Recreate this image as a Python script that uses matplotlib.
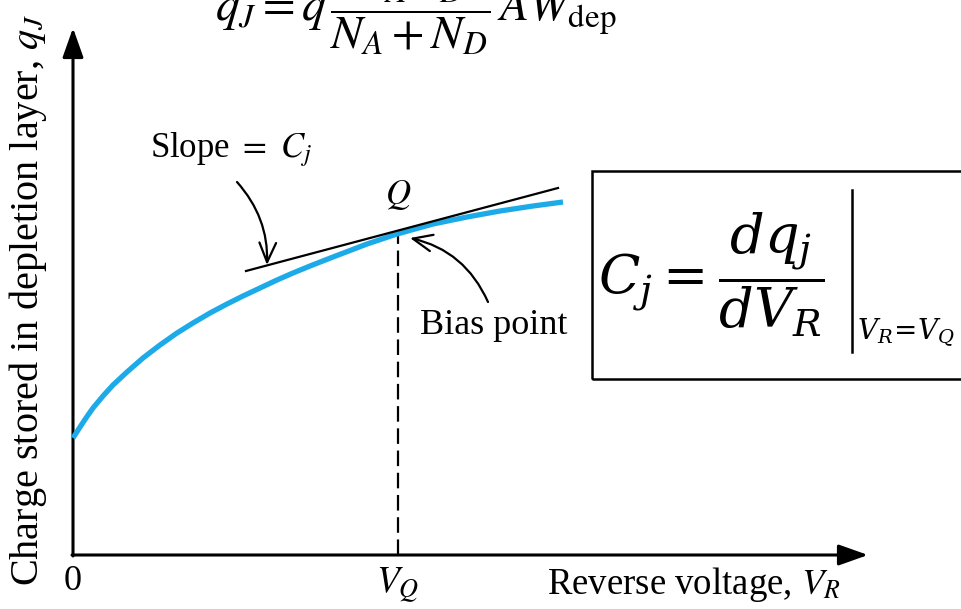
import matplotlib
matplotlib.use("Agg")
import matplotlib.pyplot as plt
from matplotlib.patches import Rectangle

plt.rcParams["font.family"] = ["Liberation Serif", "DejaVu Serif"]
plt.rcParams["mathtext.fontset"] = "stix"

# Charge vs reverse voltage (arbitrary units)
v_r = [0.00, 0.07, 0.14, 0.20, 0.30, 0.40, 0.54, 0.70, 0.87, 1.04, 1.20, 1.37,
       1.54, 1.70, 1.87, 2.04, 2.20, 2.37, 2.60, 2.94, 3.24, 3.60, 3.94, 4.27,
       4.60, 4.90]
q_j = [1.17, 1.28, 1.385, 1.47, 1.59, 1.70, 1.83, 1.97, 2.10, 2.22, 2.32, 2.42,
       2.51, 2.59, 2.67, 2.75, 2.82, 2.89, 2.98, 3.11, 3.21, 3.31, 3.38, 3.44,
       3.49, 3.53]

# Bias point and tangent line through it
v_q, q_q = 3.25, 3.22
tangent_v = [1.73, 4.85]
tangent_q = [2.84, 3.67]

x_tip, y_tip = 7.95, 5.27

fig = plt.figure(figsize=(9.61, 6.09), dpi=100)
ax = fig.add_axes([0, 0, 1, 1])
ax.set_xlim(-0.73, 8.88)
ax.set_ylim(-0.54, 5.55)
ax.axis("off")

# axes with arrow heads
head = dict(arrowstyle="-|>,head_length=0.9,head_width=0.32", lw=2.2,
            color="black", mutation_scale=20, shrinkA=0, shrinkB=0)
ax.annotate("", xy=(0, y_tip), xytext=(0, -0.01), arrowprops=head)
ax.annotate("", xy=(x_tip, 0), xytext=(-0.01, 0), arrowprops=head)

# q-V curve
ax.plot(v_r, q_j, color="#1cabe8", lw=3.8, solid_capstyle="butt",
        solid_joinstyle="round", zorder=3)

# tangent at the bias point
ax.plot(tangent_v, tangent_q, color="black", lw=1.6, zorder=4)

# dashed drop line to V_Q
ax.plot([v_q, v_q], [0, q_q], color="black", lw=1.6, ls=(0, (7, 3)), zorder=2)

# labels
ax.text(0, -0.27, "0", ha="center", va="center", fontsize=26)
ax.text(v_q, -0.30, r"$V_Q$", ha="center", va="center", fontsize=27)
ax.text(4.74, -0.30, r"Reverse voltage, $V_R$", ha="left", va="center",
        fontsize=26.5)
ax.text(-0.45, 2.55, r"Charge stored in depletion layer, $q_J$", ha="center",
        va="center", rotation=90, fontsize=29)

ax.text(0.77, 4.05, r"Slope $=$ $C_j$", ha="left", va="center", fontsize=25)
ax.text(v_q, 3.60, r"$Q$", ha="center", va="center", fontsize=25)
ax.text(3.47, 2.30, "Bias point", ha="left", va="center", fontsize=26)

ax.annotate("", xy=(1.94, 2.90), xytext=(1.64, 3.73),
            arrowprops=dict(arrowstyle="->,head_length=0.7,head_width=0.3",
                            lw=1.6, color="black", mutation_scale=20,
                            connectionstyle="arc3,rad=-0.2",
                            shrinkA=0, shrinkB=0))
ax.annotate("", xy=(3.37, 3.17), xytext=(4.15, 2.53),
            arrowprops=dict(arrowstyle="->,head_length=0.7,head_width=0.3",
                            lw=1.6, color="black", mutation_scale=20,
                            connectionstyle="arc3,rad=0.25",
                            shrinkA=0, shrinkB=0))

# boxed definition of junction capacitance
ax.add_patch(Rectangle((5.19, 1.76), 3.8, 2.08, fill=False, lw=1.8,
                       edgecolor="black", clip_on=False))
ax.text(5.25, 2.80, r"$C_j = \dfrac{dq_j}{dV_R}$", ha="left", va="center",
        fontsize=39, math_fontfamily="dejavuserif")
ax.plot([7.79, 7.79], [2.03, 3.65], color="black", lw=1.8)
ax.text(7.84, 2.22, r"$V_R\!=\!V_Q$", ha="left", va="center", fontsize=20,
        math_fontfamily="dejavuserif")

# depletion charge formula (numerator above the top edge)
ax.text(3.43, 5.45, r"$q_J = q\,\dfrac{N_A N_D}{N_A + N_D}\,A W_{\mathrm{dep}}$",
        ha="center", va="center", fontsize=34)

fig.savefig("out.png", dpi=100)
